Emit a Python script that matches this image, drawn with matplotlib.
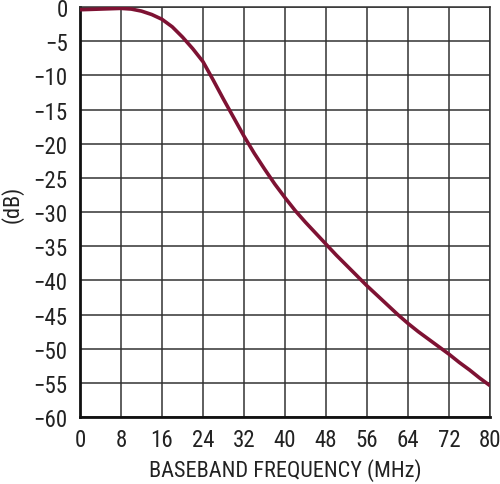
import matplotlib
matplotlib.use("Agg")
import matplotlib.pyplot as plt
from matplotlib import font_manager

# ==========================================
# Data
# ==========================================

freq_mhz = [0, 2, 4, 6, 8, 10, 12, 14, 16, 18, 20, 22, 24, 26, 28, 30, 32, 34, 36, 38,
            40, 42, 44, 46, 48, 50, 52, 54, 56, 58, 60, 62, 64, 66, 68, 70, 72, 74, 76, 78, 80]
gain_db = [-0.4, -0.35, -0.3, -0.25, -0.2, -0.3, -0.6, -1.1, -1.8, -2.9, -4.4, -6.1, -8.0,
           -10.7, -13.5, -16.2, -18.9, -21.4, -23.7, -25.9, -27.9, -29.8, -31.5, -33.1,
           -34.7, -36.3, -37.8, -39.3, -40.8, -42.2, -43.6, -45.0, -46.3, -47.5, -48.6,
           -49.7, -50.8, -52.0, -53.1, -54.3, -55.4]

x_ticks = list(range(0, 81, 8))
y_ticks = list(range(-60, 1, 5))

# ==========================================
# Font
# ==========================================

names = {f.name for f in font_manager.fontManager.ttflist}
family = "DejaVu Sans"
for cand in ["Roboto Condensed", "Liberation Sans Narrow", "Liberation Sans"]:
    if cand in names:
        family = cand
        break
plt.rcParams["font.family"] = [family, "DejaVu Sans"]

# ==========================================
# Plot
# ==========================================

fig = plt.figure(figsize=(5.0, 4.85), dpi=100)
ax = fig.add_axes([0.16, 0.138, 0.82, 0.8455])

ax.plot(freq_mhz, gain_db, color="#7e1233", linewidth=2.6,
        solid_joinstyle="round", solid_capstyle="butt", zorder=3)

ax.set_xlim(0, 80)
ax.set_ylim(-60, 0)
ax.set_xticks(x_ticks)
ax.set_yticks(y_ticks)
ax.grid(True, color="#333333", linewidth=1.1)
ax.set_axisbelow(True)

ax.tick_params(length=0, labelsize=16.5, colors="#222222", pad=8)
ax.tick_params(axis="y", pad=9)

for side in ["left", "bottom"]:
    ax.spines[side].set_linewidth(2.0)
    ax.spines[side].set_color("#111111")
for side in ["top", "right"]:
    ax.spines[side].set_linewidth(1.1)
    ax.spines[side].set_color("#333333")

ax.set_xlabel("BASEBAND FREQUENCY (MHz)", fontsize=16, color="#222222", labelpad=5)
ax.set_ylabel("(dB)", fontsize=16, color="#222222")
ax.yaxis.set_label_coords(-0.137, 0.52)

fig.savefig("out.png", dpi=100)
